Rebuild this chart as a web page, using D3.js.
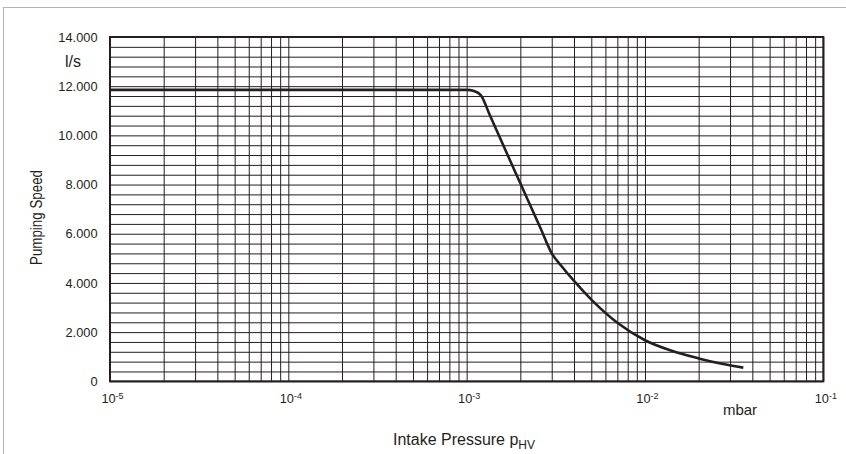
<!DOCTYPE html>
<html>
<head>
<meta charset="utf-8">
<script src="https://cdn.jsdelivr.net/npm/d3@7"></script>
<style>
body{margin:0;background:#fff;}
text{font-family:"Liberation Sans",Arial,sans-serif;fill:#231f20;}
</style>
</head>
<body>
<svg></svg>
<script>
// intake pressure (mbar) and pumping speed (l/s)
var pressure=[1e-5,1.0e-3,1.1e-3,1.2e-3,1.35e-3,1.7e-3,2.0e-3,2.6e-3,3.0e-3,3.4e-3,4.0e-3,5.1e-3,7.0e-3,1.0e-2,1.4e-2,2.0e-2,2.7e-2,3.56e-2]
var speed=[11850,11850,11800,11640,10815,9190,8050,6210,5200,4690,4080,3260,2380,1670,1250,930,710,555]

var yLabels=[0,2000,4000,6000,8000,10000,12000,14000]
var yGrid=d3.range(0,14001,400)
var xLabels=[1e-5,1e-4,1e-3,1e-2,1e-1]

var screen={width:846,height:454}
var plot={left:110,top:37,right:823.3,bottom:381.3}

var svg=d3.select("svg")
          .attr("width",screen.width)
          .attr("height",screen.height);

// light frame round the figure
svg.append("rect")
   .attr("x",3.5).attr("y",7.5)
   .attr("width",900).attr("height",600)
   .attr("fill","none")
   .attr("stroke","#b4b4b4")
   .attr("stroke-width",1);

var x=d3.scaleLog()
        .domain([1e-5,1e-1])
        .range([plot.left,plot.right]);
var y=d3.scaleLinear()
        .domain([0,14000])
        .range([plot.bottom,plot.top]);

var w=plot.right-plot.left
var h=plot.bottom-plot.top

// grid lines
var gy=svg.append("g")
          .attr("transform","translate("+plot.left+",0)")
          .call(d3.axisLeft(y).tickValues(yGrid).tickSize(-w).tickFormat(""));
var gx=svg.append("g")
          .attr("transform","translate(0,"+plot.bottom+")")
          .call(d3.axisBottom(x).tickValues(x.ticks()).tickSize(-h).tickFormat(""));
[gy,gx].forEach(function(g)
{
  g.select(".domain").remove();
  g.selectAll("line").attr("stroke","#231f20").attr("stroke-width",1);
})

svg.append("rect")
   .attr("x",plot.left).attr("y",plot.top)
   .attr("width",w).attr("height",h)
   .attr("fill","none")
   .attr("stroke","#231f20")
   .attr("stroke-width",2);

// y tick labels 14.000 style
var fmt=d3.formatLocale({decimal:",",thousands:".",grouping:[3],currency:["",""]}).format(",")
var ay=svg.append("g")
          .attr("transform","translate("+plot.left+",0)")
          .call(d3.axisLeft(y).tickValues(yLabels).tickSize(0).tickPadding(12.5).tickFormat(fmt));
ay.select(".domain").remove();
ay.selectAll("text").attr("font-size",12.8).attr("font-family",null).attr("fill","#231f20");

// x tick labels as powers of ten
var ax=svg.append("g")
          .attr("transform","translate(0,"+plot.bottom+")")
          .call(d3.axisBottom(x).tickValues(xLabels).tickSize(0).tickFormat(""));
ax.select(".domain").remove();
ax.selectAll("text")
  .attr("y",21.5).attr("dy",null).attr("dx",2)
  .attr("font-size",12.8).attr("font-family",null).attr("fill","#231f20")
  .each(function(d)
  {
    var t=d3.select(this);
    t.append("tspan").text("10");
    t.append("tspan").attr("font-size",9).attr("dy",-4).text(Math.round(Math.log10(d)));
  });

// curve
var line=d3.line()
           .x(function(d,i){return x(pressure[i]);})
           .y(function(d){return y(d);})
           .curve(d3.curveMonotoneX);
svg.append("path")
   .attr("d",line(speed))
   .attr("fill","none")
   .attr("stroke","#231f20")
   .attr("stroke-width",2.6)
   .attr("stroke-linejoin","round");

// titles and units
svg.append("text")
   .attr("x",73).attr("y",66.5)
   .attr("text-anchor","middle")
   .attr("font-size",16)
   .text("l/s");
svg.append("text")
   .attr("x",740).attr("y",415)
   .attr("text-anchor","middle")
   .attr("font-size",15)
   .text("mbar");
svg.append("text")
   .attr("transform","translate(41.5,217.5) rotate(-90)")
   .attr("text-anchor","middle")
   .attr("font-size",16)
   .attr("textLength",95)
   .attr("lengthAdjust","spacingAndGlyphs")
   .text("Pumping Speed");
var xt=svg.append("text")
          .attr("x",464).attr("y",445)
          .attr("text-anchor","middle")
          .attr("font-size",16);
xt.append("tspan").text("Intake Pressure p");
xt.append("tspan").attr("font-size",12).attr("dy",4).text("HV");
</script>
</body>
</html>
